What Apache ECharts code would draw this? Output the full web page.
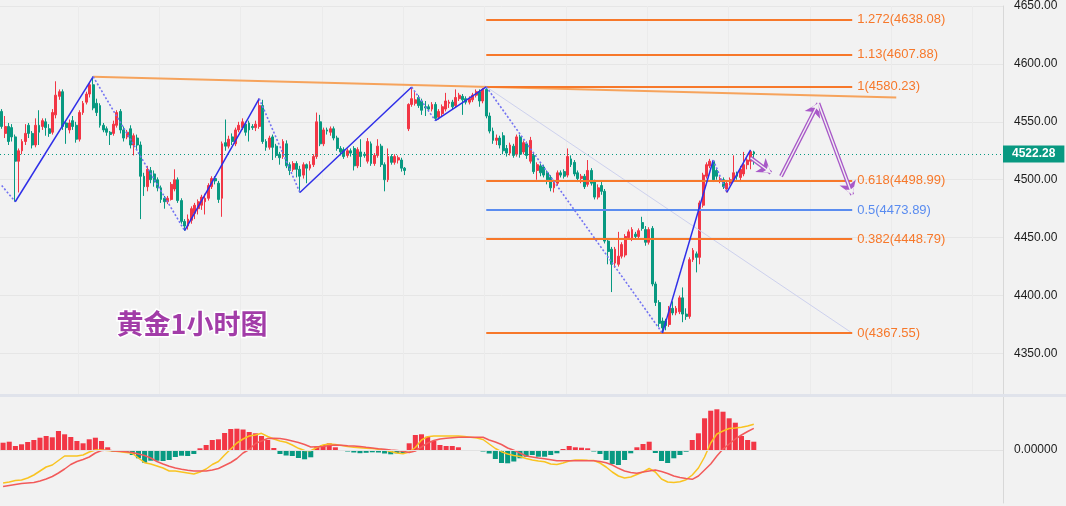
<!DOCTYPE html>
<html>
<head>
<meta charset="utf-8">
<script src="https://cdn.jsdelivr.net/npm/echarts@6/dist/echarts.min.js"></script>
<style>
html, body { margin: 0; padding: 0; background: #f2f2f2; }
#main { width: 1066px; height: 506px; }
</style>
</head>
<body>
<div id="main"></div>
<script>
// candles: [open, close, low, high]  (red = up, green = down)
var legA = [
  [4559,4546,4544,4561],[4540,4546,4536,4555],[4546,4533,4530,4549],[4545,4537,4533,4548],
  [4537,4516,4481,4539],[4516,4525,4489,4527],[4525,4533,4522,4535],[4533,4540,4530,4548],
  [4547,4540,4536,4549],[4540,4530,4527,4542],[4530,4547,4528,4553],[4547,4541,4530,4560],
  [4546,4551,4543,4553],[4550,4545,4538,4553],[4544,4540,4537,4548],[4541,4558,4539,4561],
  [4556,4573,4553,4585],[4572,4576,4569,4578],[4576,4546,4543,4578],[4549,4545,4531,4551],
  [4543,4549,4540,4552],[4551,4546,4543,4555],[4547,4535,4532,4550],[4535,4558,4533,4560],
  [4558,4566,4556,4568],[4567,4574,4565,4576],[4574,4582,4571,4584],[4582,4562,4560,4589]
];
var legB = [
  [4566,4558,4555,4570],[4564,4547,4545,4566],[4547,4543,4541,4549],[4544,4541,4538,4546],
  [4541,4539,4530,4542],[4540,4548,4538,4551],[4547,4558,4545,4560],[4559,4543,4540,4561],
  [4543,4536,4533,4546],[4537,4541,4535,4543],[4544,4530,4527,4547],[4530,4538,4521,4540],
  [4536,4530,4526,4539],[4530,4503,4466,4533],[4503,4494,4486,4506],[4494,4509,4490,4512],
  [4508,4500,4497,4511],[4505,4498,4494,4508],[4500,4493,4490,4502],[4493,4483,4480,4495],
  [4484,4481,4475,4486],[4481,4484,4479,4486],[4483,4496,4482,4498],[4492,4500,4490,4509],
  [4500,4482,4480,4502],[4482,4464,4462,4484],[4464,4460,4456,4466]
];
var legC = [
  [4460,4466,4457,4470],[4465,4475,4462,4477],[4471,4478,4466,4480],[4475,4481,4470,4483],
  [4478,4485,4474,4487],[4481,4484,4470,4488],[4484,4495,4482,4497],[4494,4501,4492,4503],
  [4501,4499,4496,4503],[4497,4483,4480,4499],[4484,4531,4468,4533],[4532,4529,4525,4552],
  [4529,4535,4527,4538],[4537,4533,4530,4540],[4531,4543,4529,4545],[4543,4547,4541,4550],
  [4545,4550,4543,4553],[4548,4541,4538,4550],[4549,4543,4533,4551],[4546,4545,4543,4548],
  [4545,4548,4542,4551],[4546,4564,4544,4570]
];
var legD = [
  [4564,4533,4531,4569],[4533,4528,4525,4535],[4528,4536,4526,4538],[4537,4528,4517,4539],
  [4529,4521,4519,4531],[4522,4519,4513,4524],[4520,4533,4518,4535],[4531,4512,4510,4534],
  [4513,4508,4504,4515],[4509,4514,4507,4516],[4514,4509,4502,4516],[4509,4503,4489,4512],
  [4504,4513,4501,4515],[4513,4510,4497,4514],[4510,4513,4508,4516],[4513,4520,4511,4522],
  [4520,4550,4518,4558],[4550,4531,4529,4556],[4531,4543,4529,4545],[4543,4542,4539,4545],
  [4541,4544,4538,4546],[4544,4536,4534,4546],[4536,4527,4525,4538],[4527,4524,4521,4529],
  [4526,4520,4518,4528],[4521,4525,4519,4527],[4525,4523,4520,4527],[4527,4512,4508,4529],
  [4512,4526,4510,4528],[4524,4520,4511,4535],[4522,4521,4519,4524],[4516,4533,4514,4536],
  [4531,4514,4512,4533],[4514,4521,4512,4523],[4521,4529,4519,4535],[4529,4513,4511,4531],
  [4513,4500,4490,4515],[4500,4520,4498,4527],[4520,4515,4513,4522],[4515,4520,4513,4522],
  [4517,4519,4514,4521],[4517,4510,4507,4519],[4510,4508,4504,4511]
];
var legE = [
  [4544,4565,4542,4566],[4565,4570,4563,4580],[4566,4569,4564,4576],[4571,4564,4562,4573],
  [4568,4560,4556,4570],[4563,4562,4555,4568],[4563,4561,4559,4565],[4561,4565,4559,4567],
  [4565,4553,4551,4567],[4554,4559,4552,4561],[4557,4563,4555,4565],[4561,4568,4559,4575],
  [4566,4567,4562,4569],[4567,4563,4561,4569],[4564,4571,4562,4578],[4570,4573,4568,4575],
  [4572,4569,4556,4574],[4570,4567,4565,4572],[4567,4570,4565,4572],[4569,4573,4567,4575],
  [4573,4576,4571,4578],[4576,4568,4563,4578],[4568,4578,4566,4579],[4578,4555,4553,4580.23]
];
var legF = [
  [4555,4542,4540,4558],[4542,4534,4531,4545],[4534,4536,4530,4539],[4536,4530,4527,4538],
  [4538,4525,4522,4541],[4527,4523,4520,4530],[4523,4530,4521,4532],[4529,4521,4519,4531],
  [4522,4537,4520,4539],[4537,4522,4519,4539],[4524,4532,4522,4534],[4531,4521,4518,4533],
  [4516,4534,4514,4537],[4521,4507,4505,4524],[4508,4513,4500,4515],[4512,4506,4503,4514],
  [4511,4504,4502,4513],[4506,4500,4496,4508],[4502,4493,4490,4504],[4493,4498,4489,4500],
  [4497,4506,4495,4508],[4506,4504,4502,4508],[4507,4503,4501,4509],[4504,4520,4502,4527],
  [4518,4513,4511,4521],[4515,4505,4503,4517],[4506,4501,4498,4508],[4501,4503,4497,4505],
  [4503,4494,4492,4505],[4496,4508,4494,4517],[4508,4497,4495,4510],[4498,4485,4483,4500],
  [4485,4493,4483,4496],[4495,4490,4487,4498],[4490,4447,4445,4492],[4447,4438,4427,4449],
  [4440,4427,4403,4442],[4428,4440,4424,4442],[4427,4434,4425,4455],[4434,4444,4432,4446],
  [4435,4451,4433,4453],[4450,4455,4448,4457],[4449,4457,4447,4459],[4453,4451,4449,4455],
  [4451,4456,4449,4458],[4463,4458,4456,4468],[4457,4446,4443,4460],[4446,4457,4444,4459],
  [4458,4410,4408,4460],[4410,4394,4391,4412],[4394,4376,4373,4396],[4378,4372,4367.55,4381]
];
var legG = [
  [4378,4374,4370,4380],[4375,4389,4373,4391],[4389,4385,4383,4395],[4385,4389,4383,4391],
  [4386,4398,4384,4400],[4398,4384,4377,4407],[4384,4382,4379,4389],[4382,4431,4380,4433],
  [4431,4439,4429,4441],[4436,4433,4420,4438],[4433,4480,4427,4482],[4478,4504,4476,4506],
  [4503,4513,4501,4515],[4512,4516,4510,4518],[4516,4500,4498,4517],[4508,4503,4500,4510],
  [4499,4501,4497,4503],[4500,4494,4492,4502],[4492,4497,4489,4499],[4497,4500,4495,4502],
  [4500,4506,4498,4521],[4505,4503,4500,4507],[4502,4509,4498,4512],[4505,4513,4503,4524],
  [4513,4517,4509,4519],[4516,4524.3,4509,4525.7],[4524,4522.28,4513,4525]
];
var candles = legA.concat(legB, legC, legD, legE, legF, legG);
var slotCount = 296;               // room on the right of the last candle
var lastClose = 4522.28;

// swing points of the zigzag [candle index, price]
var pivots = [[0,4495],[4,4481],[27,4589],[54,4456],[76,4570],[88,4489],[121,4580],
  [128,4551],[143,4580.23],[195,4367.55],[210,4517],[214,4489],[221,4525.7]];
var trendLine = [[27,4589],[264,4571]];

// fibonacci retracement
var fibFrom = 143, fibTo = 251;
var fibHigh = 4580.23, fibLow = 4367.55;
var fibRatios = [1.272, 1.13, 1, 0.618, 0.5, 0.382, 0];

// projected path (purple arrows)
var arrowPath = [[[221,4519],[227,4506]], [[230,4503],[241,4566]], [[241,4566],[251,4487]]];

// MACD pane
var macdSlots = 163;
var hist = [7.3,8.3,4,5.7,8,10,12.3,14,12.7,19,
  15.7,13,9,6.7,10.7,12.3,9,2.7,-1.7,-2,
  -2,-5,-8.3,-12.7,-10.7,-10.7,-11,-10,-7,-5.7,
  -6,-4,1.7,5,10,10.7,17,21,21.3,20.5,
  18,16.7,14,10,2,-4,-5.5,-6,-8,-9.3,
  -7.3,3.3,5,6.7,2.7,-1,-1.5,-2.5,-3.2,-2.8,
  -2.3,-2.5,-3.5,-4.3,-3.3,-3,6.7,15,15.7,13.3,
  9,5,4,4,2.7,-0.3,-0.5,-1,-1.5,-3.5,
  -9,-13,-13.3,-11.5,-8.3,-6.7,-5,-6.7,-6.7,-5,
  -3.3,1,4,2.7,2.3,1.7,-1.5,-4,-10,-14,
  -15,-10,-3.3,2.7,6,8.3,-3,-11,-13,-8.3,
  -5,-1.7,10,16.7,31.7,39.3,40.7,38.3,31.7,27.3,
  14,10,8.3];
var dif = [-33,-32,-30.5,-30,-28,-25,-21,-17,-15,-10.5,
  -6,-6,-6,-5,-2,0,0,-0.5,-1,-1.7,
  -2.5,-3.3,-8,-12.7,-14,-16,-18,-21,-21,-22,
  -23,-24,-22,-19,-14.5,-11.5,-5,1,7,11,
  14,15,16.7,13.5,11,9,7.7,5,1.7,-0.5,
  -0.7,2.5,5,6,5.5,4.5,3.5,2.8,2.3,1.8,
  1.5,0.8,0,-1.5,-3,-3.8,-2,2.5,10,13.3,
  14,14,14,14,14,13.5,12.8,12,10.5,6,
  1.5,-1.7,-4,-5.5,-6.5,-8.5,-10,-11,-11.7,-14,
  -14.5,-13,-11,-10,-10,-10.3,-10.5,-13,-17,-22,
  -26,-28,-27,-24.5,-22,-18.5,-22,-29,-32,-32.5,
  -31.7,-29.7,-25,-18,-7,7,16,19,21.5,22,
  22.7,24,25.7];
var dea = [-36.5,-35.5,-34.5,-33.5,-33,-32.5,-31,-29,-26.5,-23,
  -19,-14.5,-11.5,-9.5,-7,-3,-0.5,0,-1,-1.3,
  -1.8,-2.5,-4,-5.5,-8,-11.5,-14,-16.3,-18,-19.3,
  -20.3,-21,-21,-21,-20,-18.5,-15.5,-12.5,-8.5,-3,
  0.5,6.5,9,11.5,11.7,11.5,10.5,9,7.5,5.5,
  3,3.3,3.5,4.5,5,4.7,4.3,4,3.5,2.7,
  2,1.3,0.7,0,-0.5,-1.3,-2.5,-1,3,7,
  9.5,11,11.7,12.3,12.7,12.7,12.7,12.7,12.7,10,
  8,5.5,2,-0.3,-3,-6,-7,-8,-8.7,-9.7,
  -10.7,-10.7,-10.7,-10.7,-10.7,-10.7,-10.7,-11.5,-12.7,-15,
  -18.3,-21,-22.5,-23.3,-22,-21,-20,-21.5,-23.5,-26,
  -27.5,-28.5,-29.3,-26,-20,-14,-6,1,6,11,
  15,18.5,21.7];

var UP = '#f23645', DOWN = '#089981';
var FIB_ORANGE = '#f7782a', FIB_BLUE = '#5a8cf0';
var ARROW = '#a858c8';
var font = 'Liberation Sans';

var slots = [];
for (var i = 0; i < slotCount; i++) slots.push(String(i));
var mslots = [];
for (var j = 0; j < macdSlots; j++) mslots.push(String(j));

var myChart = echarts.init(document.getElementById('main'));

// zigzag segments: rising legs solid, falling legs dotted
var zigSeries = [];
for (var k = 1; k < pivots.length; k++) {
  var a = pivots[k - 1], b = pivots[k];
  var rising = b[1] > a[1];
  zigSeries.push({
    type: 'line', xAxisIndex: 0, yAxisIndex: 0, data: [a, b],
    symbol: 'none', silent: true, z: 5,
    lineStyle: rising ? {color: '#2e2ee8', width: 1.5} : {color: '#7373f2', width: 1.6, type: [2, 2]}
  });
}

var fibLines = fibRatios.map(function (r) {
  var v = fibLow + r * (fibHigh - fibLow);
  var c = r === 0.5 ? FIB_BLUE : FIB_ORANGE;
  return [
    {coord: [fibFrom, v], lineStyle: {color: c, width: 2, type: 'solid'},
     label: {color: c, formatter: r + '(' + v.toFixed(2) + ')'}},
    {coord: [fibTo, v]}
  ];
});

var arrows = arrowPath.map(function (seg) {
  return [{coord: seg[0]}, {coord: seg[1]}];
});

// hollow arrow = wide purple stroke with a thin background-coloured core
function arrowSeries(color, width, size, z) {
  return {
    type: 'line', xAxisIndex: 0, yAxisIndex: 0, data: [], silent: true, z: z,
    markLine: {
      silent: true, symbol: ['none', 'arrow'], symbolSize: size, z: z,
      lineStyle: {color: color, width: width, type: 'solid'},
      itemStyle: {color: color},
      label: {show: false}, data: arrows
    }
  };
}

option = {
  animation: false,
  backgroundColor: '#f2f2f2',
  grid: [
    {left: 0, right: 63, top: 0, height: 394},
    {left: 0, right: 63, top: 397, height: 106}
  ],
  xAxis: [
    {type: 'category', gridIndex: 0, data: slots, boundaryGap: true,
     axisLine: {show: false}, axisTick: {show: false}, axisLabel: {show: false},
     splitLine: {show: true, interval: function (idx) { return idx % 24 === 23; },
                 lineStyle: {color: '#ebebeb'}}},
    {type: 'category', gridIndex: 1, data: mslots, boundaryGap: true,
     axisLine: {show: false}, axisTick: {show: false}, axisLabel: {show: false},
     splitLine: {show: false}}
  ],
  yAxis: [
    {type: 'value', gridIndex: 0, position: 'right', min: 4315, max: 4650,
     splitNumber: 7, minInterval: 50, maxInterval: 50,
     axisLine: {show: true, lineStyle: {color: '#d8d8d8'}}, axisTick: {show: false},
     axisLabel: {showMinLabel: false, margin: 11, color: '#1c1c1c', fontSize: 12,
                 fontFamily: font, formatter: function (v) { return v.toFixed(2); }},
     splitLine: {lineStyle: {color: '#e6e6e6'}}},
    {type: 'value', gridIndex: 1, position: 'right', min: -53, max: 53,
     axisLine: {show: true, lineStyle: {color: '#d8d8d8'}}, axisTick: {show: false},
     axisLabel: {margin: 11, color: '#1c1c1c', fontSize: 12, fontFamily: font,
                 formatter: function (v) { return v === 0 ? '0.00000' : ''; }},
     splitLine: {show: false}}
  ],
  graphic: [
    {type: 'rect', left: 0, top: 394, shape: {width: 1066, height: 3},
     style: {fill: '#e0e3eb'}, silent: true, z: 10},
    {type: 'text', left: 115, top: 309, z: 10, silent: true,
     style: {text: '黄金1小时图', font: 'bold 27px "Noto Sans CJK SC"', fill: '#a23ca8',
             stroke: '#ffffff', lineWidth: 3, strokeFirst: true,
             shadowBlur: 3, shadowColor: 'rgba(0,0,0,0.25)', shadowOffsetX: 1, shadowOffsetY: 1}}
  ],
  series: [
    {
      name: 'XAUUSD', type: 'candlestick', xAxisIndex: 0, yAxisIndex: 0,
      data: candles, barWidth: '70%',
      itemStyle: {color: UP, color0: DOWN, borderColor: UP, borderColor0: DOWN, borderWidth: 1},
      markLine: {
        silent: true, symbol: ['none', 'none'], animation: false,
        data: [{yAxis: lastClose}],
        lineStyle: {color: DOWN, type: [1, 3], width: 1},
        label: {position: 'end', distance: 0, formatter: lastClose.toFixed(2),
                backgroundColor: DOWN, color: '#fff', fontWeight: 'bold', fontSize: 12,
                fontFamily: font, padding: [3, 9, 2, 9]}
      }
    }
  ].concat(zigSeries, [
    {
      name: 'trend', type: 'line', xAxisIndex: 0, yAxisIndex: 0, data: trendLine,
      symbol: 'none', silent: true, z: 4,
      lineStyle: {color: '#f6a35c', width: 2}
    },
    arrowSeries(ARROW, 4, 13, 6),
    arrowSeries('#f2f2f2', 1.4, 7, 7),
    {
      name: 'fib', type: 'line', xAxisIndex: 0, yAxisIndex: 0,
      data: [[fibFrom, fibHigh], [fibTo, fibLow]],
      symbol: 'none', silent: true, z: 3,
      lineStyle: {color: '#cdd1ee', width: 1},
      markLine: {
        silent: true, symbol: ['none', 'none'],
        lineStyle: {type: 'solid'},
        label: {position: 'end', distance: 5, fontSize: 13, fontFamily: font},
        data: fibLines
      }
    },
    {
      name: 'MACD', type: 'bar', xAxisIndex: 1, yAxisIndex: 1, data: hist,
      barWidth: '82%', silent: true,
      itemStyle: {color: function (p) { return p.value >= 0 ? UP : DOWN; }},
      markLine: {silent: true, symbol: ['none', 'none'], label: {show: false},
                 lineStyle: {color: '#e2e2e2', type: 'solid', width: 1}, data: [{yAxis: 0}]}
    },
    {name: 'DIF', type: 'line', xAxisIndex: 1, yAxisIndex: 1, data: dif,
     symbol: 'none', silent: true, lineStyle: {color: '#f9c320', width: 1.5}},
    {name: 'DEA', type: 'line', xAxisIndex: 1, yAxisIndex: 1, data: dea,
     symbol: 'none', silent: true, lineStyle: {color: '#f25a5a', width: 1.5}}
  ])
};
myChart.setOption(option);
</script>
</body>
</html>
